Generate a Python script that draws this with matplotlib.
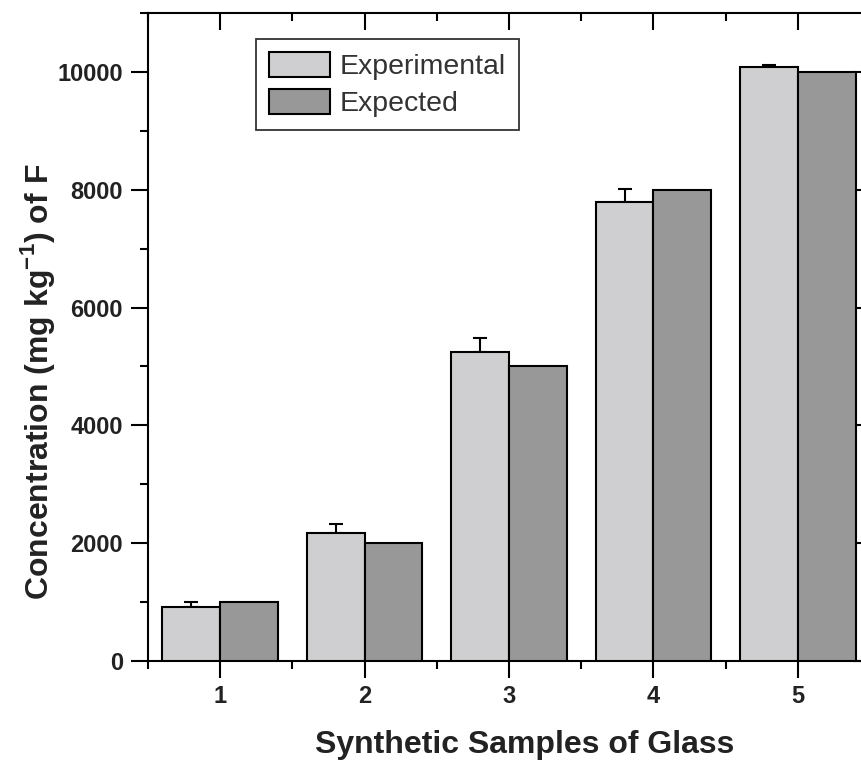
import matplotlib
matplotlib.use("Agg")
import matplotlib.pyplot as plt
import numpy as np
from matplotlib.ticker import MultipleLocator

plt.rcParams['font.family'] = ['Liberation Sans', 'DejaVu Sans']
plt.rcParams['mathtext.fontset'] = 'custom'
plt.rcParams['mathtext.rm'] = 'Liberation Sans'
plt.rcParams['mathtext.bf'] = 'Liberation Sans:bold'

samples = [1, 2, 3, 4, 5]
experimental = [920, 2170, 5250, 7800, 10080]
experimental_err = [80, 160, 230, 220, 35]
expected = [1000, 2000, 5000, 8000, 10000]
series_labels = ["Experimental", "Expected"]
xlabel = "Synthetic Samples of Glass"
ylabel = r"Concentration (mg kg$^{\mathbf{-1}}$) of F"

W, H = 862, 763
fig = plt.figure(figsize=(W / 100, H / 100), dpi=100)
ax = fig.add_axes([148 / W, (H - 661) / H, 722 / W, 648 / H])

x = np.array(samples, dtype=float)
bw = 0.4
ax.bar(x - bw / 2, experimental, bw, color='#cfcfd1', edgecolor='black',
       linewidth=1.5, label=series_labels[0], zorder=3)
ax.bar(x + bw / 2, expected, bw, color='#989898', edgecolor='black',
       linewidth=1.5, label=series_labels[1], zorder=3)
ax.errorbar(x - bw / 2, experimental,
            yerr=[np.zeros(len(experimental_err)), experimental_err],
            fmt='none', ecolor='black', elinewidth=1.5, capsize=5, capthick=1.5,
            zorder=2)

ax.set_xlim(0.5, 5.5)
ax.set_ylim(0, 11000)
ax.set_xticks(samples)
ax.set_xticklabels([str(s) for s in samples])
ax.set_xticks([0.5 + i for i in range(6)], minor=True)
ax.yaxis.set_major_locator(MultipleLocator(2000))
ax.yaxis.set_minor_locator(MultipleLocator(1000))

for sp in ax.spines.values():
    sp.set_linewidth(1.5)

ax.tick_params(axis='both', which='major', labelsize=17, width=1.5, length=12,
               labelcolor='#222222')
ax.tick_params(axis='both', which='minor', width=1.5, length=6)
ax.tick_params(axis='x', which='both', direction='out', top=True, pad=5)
ax.tick_params(axis='y', which='both', direction='out', right=True, pad=6)
for lab in ax.get_xticklabels() + ax.get_yticklabels():
    lab.set_fontweight('bold')

# top and right ticks point inward
for t in ax.xaxis.get_major_ticks() + ax.xaxis.get_minor_ticks():
    t.tick2line.set_marker(3)
for t in ax.yaxis.get_major_ticks() + ax.yaxis.get_minor_ticks():
    t.tick2line.set_marker(0)

leg = ax.legend(loc='upper left', bbox_to_anchor=(0.1496, 0.96),
                borderaxespad=0, fancybox=False, frameon=True,
                fontsize=20.5, handlelength=2.15, handleheight=1.0,
                handletextpad=0.35, labelspacing=0.3, borderpad=0.45)
leg.get_frame().set_edgecolor('black')
leg.get_frame().set_linewidth(1.3)
for t in leg.get_texts():
    t.set_color('#333333')

fig.text(525 / W, 1 - 745 / H, xlabel, ha='center', va='center',
         fontsize=23, fontweight='bold', color='#222222')
fig.text(38 / W, 1 - 382 / H, ylabel, ha='center', va='center',
         rotation=90, fontsize=23, fontweight='bold', color='#222222')

fig.savefig("out.png", dpi=100)
